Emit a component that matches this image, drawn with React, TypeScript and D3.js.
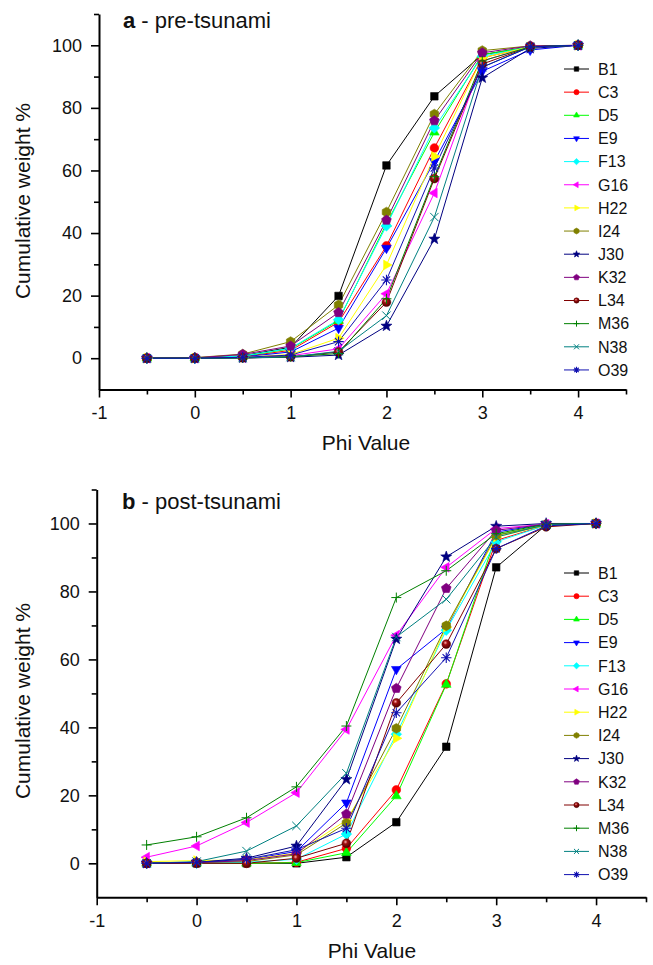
import React, { useEffect, useRef } from "react";
import * as d3 from "d3";

// ---------- data ----------
const phiValues = [-0.5, 0, 0.5, 1, 1.5, 2, 2.5, 3, 3.5, 4];
const sampleNames = ["B1", "C3", "D5", "E9", "F13", "G16", "H22", "I24", "J30", "K32", "L34", "M36", "N38", "O39"];
const sampleColors = ["#000000", "#ff0000", "#00ff00", "#0000ff", "#00ffff", "#ff00ff", "#ffff00", "#808000", "#000080", "#800080", "#800000", "#008000", "#008080", "#1010b0"];
const sampleShapes = ["square", "circle", "triUp", "triDown", "diamond", "triLeft", "triRight", "hexagon", "star", "pentagon", "sphere", "plus", "cross", "asterisk"];

const preTsunami: number[][] = [
  [0, 0, 0.8, 3.5, 19.9, 61.6, 83.7, 97.0, 99.5, 100],
  [0, 0, 0.5, 2.5, 11.5, 35.9, 67.2, 96.0, 99.5, 100],
  [0, 0, 0.6, 3.0, 12.0, 43.0, 72.2, 97.0, 99.5, 100],
  [0, 0, 0.4, 2.0, 9.6, 35.2, 62.9, 91.7, 98.5, 100],
  [0, 0, 0.7, 3.2, 12.3, 42.3, 73.6, 96.5, 99.5, 100],
  [0, 0, 0.2, 0.8, 3.0, 20.6, 52.8, 95.0, 99.5, 100],
  [0, 0, 0.3, 1.2, 6.4, 29.8, 64.5, 96.0, 99.5, 100],
  [0, 0.2, 1.3, 5.3, 17.0, 46.7, 78.0, 98.3, 99.8, 100],
  [0, 0, 0.1, 0.3, 1.0, 10.3, 38.1, 89.6, 99.0, 100],
  [0, 0.1, 1.2, 3.9, 14.6, 44.1, 75.9, 97.6, 99.8, 100],
  [0, 0, 0.1, 0.4, 2.0, 17.9, 57.4, 94.0, 99.5, 100],
  [0, 0, 0.1, 0.5, 1.5, 19.0, 58.0, 95.0, 99.5, 100],
  [0, 0, 0.1, 0.4, 2.2, 13.6, 45.1, 93.0, 99.5, 100],
  [0, 0, 0.3, 1.0, 5.3, 25.0, 60.8, 93.0, 99.5, 100],
];

const postTsunami: number[][] = [
  [0, 0, 0, 0, 1.8, 12.1, 34.3, 87.1, 99.5, 100],
  [0, 0, 0, 0.3, 4.4, 21.6, 52.8, 95.0, 99.5, 100],
  [0, 0, 0, 0.2, 3.1, 19.8, 52.6, 96.6, 99.5, 100],
  [0, 0.2, 1.0, 3.5, 17.8, 57.1, 69.0, 97.5, 99.8, 100],
  [0, 0, 0.3, 1.2, 8.6, 38.0, 68.6, 94.6, 99.5, 100],
  [1.8, 5.1, 12.0, 20.8, 39.4, 67.1, 87.1, 98.5, 99.8, 100],
  [0.5, 0.8, 1.0, 3.0, 12.7, 36.8, 69.5, 96.0, 99.5, 100],
  [0, 0.3, 0.5, 2.5, 11.8, 39.7, 69.9, 96.5, 99.5, 100],
  [0, 0.3, 1.5, 5.1, 24.7, 66.0, 90.2, 99.2, 100, 100],
  [0, 0.2, 0.8, 2.8, 14.5, 51.5, 80.9, 98.0, 99.8, 100],
  [0, 0, 0, 1.5, 5.9, 47.2, 64.5, 92.6, 99.0, 100],
  [5.4, 7.8, 13.4, 22.5, 40.4, 78.2, 86.1, 97.0, 99.8, 100],
  [0, 0.5, 3.6, 11.0, 26.5, 66.6, 77.7, 96.0, 99.7, 100],
  [0, 0.3, 1.2, 4.0, 10.3, 44.3, 60.5, 92.6, 99.3, 100],
];

const xMajorTicks = [-1, 0, 1, 2, 3, 4];
const xMinorTicks = [-0.5, 0.5, 1.5, 2.5, 3.5, 4.5];
const yMajorTicks = [0, 20, 40, 60, 80, 100];
const yMinorTicks = [10, 30, 50, 70, 90, 110];
const xDomain = [-1, 4.5];
const yDomain = [-10, 110];

const FONT = "'Liberation Sans', Arial, Helvetica, sans-serif";

// ---------- markers ----------
function polyPoints(n: number, r: number, rotDeg: number) {
  const pts: string[] = [];
  for (let i = 0; i < n; i++) {
    const a = ((rotDeg + (360 / n) * i) * Math.PI) / 180;
    pts.push(`${(r * Math.cos(a)).toFixed(2)},${(r * Math.sin(a)).toFixed(2)}`);
  }
  return pts.join(" ");
}
function starPoints(ro: number, ri: number) {
  const pts: string[] = [];
  for (let i = 0; i < 10; i++) {
    const r = i % 2 === 0 ? ro : ri;
    const a = ((-90 + 36 * i) * Math.PI) / 180;
    pts.push(`${(r * Math.cos(a)).toFixed(2)},${(r * Math.sin(a)).toFixed(2)}`);
  }
  return pts.join(" ");
}

function Marker({ shape, color, k, cx, cy }: { shape: string; color: string; k: number; cx: number; cy: number }) {
  const t = `translate(${cx},${cy})`;
  const common = { fill: color, stroke: color, strokeWidth: 0.6 };
  switch (shape) {
    case "square":
      return <polygon transform={t} points={polyPoints(4, 5.3 * k, 45)} {...common} />;
    case "circle":
      return <circle transform={t} r={4.3 * k} {...common} />;
    case "triUp":
      return <polygon transform={t} points={polyPoints(3, 5.6 * k, -90)} {...common} />;
    case "triDown":
      return <polygon transform={t} points={polyPoints(3, 5.6 * k, 90)} {...common} />;
    case "triLeft":
      return <polygon transform={t} points={polyPoints(3, 5.6 * k, 180)} {...common} />;
    case "triRight":
      return <polygon transform={t} points={polyPoints(3, 5.6 * k, 0)} {...common} />;
    case "diamond":
      return <polygon transform={t} points={polyPoints(4, 5.3 * k, 0)} {...common} />;
    case "hexagon":
      return <polygon transform={t} points={polyPoints(6, 4.9 * k, -90)} {...common} />;
    case "pentagon":
      return <polygon transform={t} points={polyPoints(5, 5.1 * k, -90)} {...common} />;
    case "star":
      return <polygon transform={t} points={starPoints(5.8 * k, 2.4 * k)} {...common} />;
    case "sphere":
      return <circle transform={t} r={4.4 * k} fill="url(#sphereGrad)" stroke="#5a0000" strokeWidth={0.5} />;
    case "plus": {
      const r = 5 * k;
      return <path transform={t} d={`M${-r},0H${r}M0,${-r}V${r}`} stroke={color} strokeWidth={1} fill="none" />;
    }
    case "cross": {
      const r = 4.2 * k;
      return <path transform={t} d={`M${-r},${-r}L${r},${r}M${-r},${r}L${r},${-r}`} stroke={color} strokeWidth={1} fill="none" />;
    }
    case "asterisk": {
      const r = 5.2 * k;
      const d = r * 0.707;
      return (
        <path
          transform={t}
          d={`M${-r},0H${r}M0,${-r}V${r}M${-d},${-d}L${d},${d}M${-d},${d}L${d},${-d}`}
          stroke={color}
          strokeWidth={1.1}
          fill="none"
        />
      );
    }
    default:
      return null;
  }
}

// ---------- axes ----------
function Axes({ x, y, yBot, x0 }: { x: d3.ScaleLinear<number, number>; y: d3.ScaleLinear<number, number>; yBot: number; x0: number }) {
  const gxMaj = useRef<SVGGElement>(null);
  const gxMin = useRef<SVGGElement>(null);
  const gyMaj = useRef<SVGGElement>(null);
  const gyMin = useRef<SVGGElement>(null);
  useEffect(() => {
    const style = (g: d3.Selection<SVGGElement, unknown, null, undefined>) => {
      g.attr("font-family", FONT).attr("font-size", 18);
      g.selectAll("path.domain").attr("stroke", "#000").attr("stroke-width", 2);
      g.selectAll(".tick line").attr("stroke", "#000").attr("stroke-width", 1.6);
      g.selectAll(".tick text").attr("fill", "#111");
    };
    const fmt = (d: d3.NumberValue) => String(d);
    d3.select(gxMaj.current!)
      .call(d3.axisBottom(x).tickValues(xMajorTicks).tickSize(8).tickSizeOuter(0).tickPadding(9).tickFormat(fmt))
      .call(style);
    d3.select(gxMin.current!)
      .call(d3.axisBottom(x).tickValues(xMinorTicks).tickSize(5).tickSizeOuter(0).tickFormat(() => ""))
      .call(style);
    d3.select(gxMin.current!).select("path.domain").remove();
    d3.select(gyMaj.current!)
      .call(d3.axisLeft(y).tickValues(yMajorTicks).tickSize(8).tickSizeOuter(0).tickPadding(9).tickFormat(fmt))
      .call(style);
    d3.select(gyMin.current!)
      .call(d3.axisLeft(y).tickValues(yMinorTicks).tickSize(5).tickSizeOuter(0).tickFormat(() => ""))
      .call(style);
    d3.select(gyMin.current!).select("path.domain").remove();
  }, [x, y]);
  return (
    <g>
      <g ref={gxMin} transform={`translate(0,${yBot})`} />
      <g ref={gxMaj} transform={`translate(0,${yBot})`} />
      <g ref={gyMin} transform={`translate(${x0},0)`} />
      <g ref={gyMaj} transform={`translate(${x0},0)`} />
    </g>
  );
}

// ---------- panel ----------
type PanelCfg = {
  letter: string;
  subtitle: string;
  values: number[][];
  x0: number;
  x1: number;
  yTop: number;
  yBot: number;
  titleX: number;
  titleY: number;
  xlabelX: number;
  xlabelY: number;
  ylabelX: number;
  ylabelY: number;
  legendY0: number;
  legendStep: number;
};

function Panel({ cfg }: { cfg: PanelCfg }) {
  const x = d3.scaleLinear().domain(xDomain).range([cfg.x0, cfg.x1]);
  const y = d3.scaleLinear().domain(yDomain).range([cfg.yBot, cfg.yTop]);
  const line = d3
    .line<number>()
    .x((_, i) => x(phiValues[i]))
    .y((v) => y(v));
  return (
    <g>
      <text x={cfg.titleX} y={cfg.titleY} fontFamily={FONT} fontSize={22} fill="#111">
        <tspan fontWeight="bold">{cfg.letter}</tspan>
        <tspan>{` - ${cfg.subtitle}`}</tspan>
      </text>
      {cfg.values.map((vals, si) => (
        <path key={"l" + si} d={line(vals) || ""} fill="none" stroke={sampleColors[si]} strokeWidth={1} />
      ))}
      {cfg.values.map((vals, si) => (
        <g key={"m" + si}>
          {vals.map((v, i) => (
            <Marker key={i} shape={sampleShapes[si]} color={sampleColors[si]} k={1} cx={x(phiValues[i])} cy={y(v)} />
          ))}
        </g>
      ))}
      <Axes x={x} y={y} yBot={cfg.yBot} x0={cfg.x0} />
      <text x={cfg.xlabelX} y={cfg.xlabelY} textAnchor="middle" fontFamily={FONT} fontSize={21} fill="#111">
        Phi Value
      </text>
      <text
        transform={`translate(${cfg.ylabelX},${cfg.ylabelY}) rotate(-90)`}
        textAnchor="middle"
        fontFamily={FONT}
        fontSize={21}
        fill="#111"
      >
        Cumulative weight %
      </text>
      {sampleNames.map((name, si) => {
        const ly = cfg.legendY0 + si * cfg.legendStep;
        return (
          <g key={"g" + si}>
            <line x1={564} x2={589} y1={ly} y2={ly} stroke={sampleColors[si]} strokeWidth={1} />
            <Marker shape={sampleShapes[si]} color={sampleColors[si]} k={0.6} cx={576.5} cy={ly} />
            <text x={598} y={ly} dy="0.36em" fontFamily={FONT} fontSize={16} fill="#111">
              {name}
            </text>
          </g>
        );
      })}
    </g>
  );
}

const topCfg: PanelCfg = {
  letter: "a",
  subtitle: "pre-tsunami",
  values: preTsunami,
  x0: 99,
  x1: 626,
  yTop: 14,
  yBot: 389.5,
  titleX: 123,
  titleY: 28,
  xlabelX: 366,
  xlabelY: 450,
  ylabelX: 30,
  ylabelY: 201,
  legendY0: 69,
  legendStep: 23.15,
};

const bottomCfg: PanelCfg = {
  letter: "b",
  subtitle: "post-tsunami",
  values: postTsunami,
  x0: 96.7,
  x1: 646,
  yTop: 489.5,
  yBot: 897.3,
  titleX: 122,
  titleY: 509,
  xlabelX: 372,
  xlabelY: 958,
  ylabelX: 30,
  ylabelY: 701,
  legendY0: 573,
  legendStep: 23.2,
};

export default function App() {
  return (
    <svg
      width={653}
      height={965}
      viewBox="0 0 653 965"
      style={{ position: "absolute", left: 0, top: 0, background: "#fff" }}
    >
      <defs>
        <radialGradient id="sphereGrad" cx="40%" cy="35%" r="65%">
          <stop offset="0%" stopColor="#ffb0b0" />
          <stop offset="35%" stopColor="#a01010" />
          <stop offset="100%" stopColor="#500000" />
        </radialGradient>
      </defs>
      <rect x={0} y={0} width={653} height={965} fill="#fff" />
      <Panel cfg={topCfg} />
      <Panel cfg={bottomCfg} />
    </svg>
  );
}
